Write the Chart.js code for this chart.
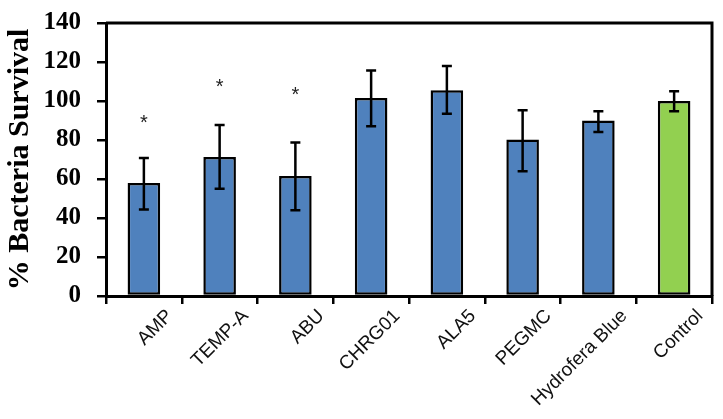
<!DOCTYPE html>
<html><head><meta charset="utf-8">
<script src="https://cdn.jsdelivr.net/npm/chart.js@4/dist/chart.umd.min.js"></script>
<style>html,body{margin:0;padding:0;background:#fff;}#wrap{width:723px;height:419px;position:relative;}</style>
</head><body><div id="wrap"><canvas id="c" width="723" height="419"></canvas></div>
<script>
const categories = ['AMP','TEMP-A','ABU','CHRG01','ALA5','PEGMC','Hydrofera Blue','Control'];
const survival = [58, 71.3, 61.6, 101.5, 105.5, 80.2, 90, 100];
const errLow = [44.4, 55, 44, 87, 93.5, 64, 84.1, 94.7];
const errHigh = [70.8, 87.7, 78.7, 115.7, 117.9, 95.2, 94.7, 105];
const starAt = [90, 108, 104, null, null, null, null, null];
const barColors = ['#4f81bd','#4f81bd','#4f81bd','#4f81bd','#4f81bd','#4f81bd','#4f81bd','#92d050'];
const yTickValues = [0, 20, 40, 60, 80, 100, 120, 140];

const extras = {
  id: 'extras',
  afterDatasetsDraw(chart) {
    const ctx = chart.ctx, x = chart.scales.x, y = chart.scales.y, ca = chart.chartArea;
    ctx.save();
    ctx.strokeStyle = '#000';
    ctx.lineWidth = 2.5;
    categories.forEach((c, i) => {
      const px = x.getPixelForValue(i);
      const yl = y.getPixelForValue(errLow[i]), yh = y.getPixelForValue(errHigh[i]);
      ctx.beginPath();
      ctx.moveTo(px, yl); ctx.lineTo(px, yh);
      ctx.moveTo(px - 5, yl); ctx.lineTo(px + 5, yl);
      ctx.moveTo(px - 5, yh); ctx.lineTo(px + 5, yh);
      ctx.stroke();
      if (starAt[i] != null) {
        ctx.fillStyle = '#222';
        ctx.font = '20px "Liberation Sans"';
        ctx.textAlign = 'center';
        ctx.textBaseline = 'alphabetic';
        ctx.fillText('*', px, y.getPixelForValue(starAt[i]) + 8);
      }
    });
    ctx.lineWidth = 3;
    ctx.beginPath();
    ctx.moveTo(ca.left, ca.top); ctx.lineTo(ca.right, ca.top); ctx.lineTo(ca.right, ca.bottom);
    ctx.stroke();
    ctx.restore();
  }
};

new Chart(document.getElementById('c'), {
  type: 'bar',
  data: {
    labels: categories,
    datasets: [{
      data: survival,
      backgroundColor: barColors,
      borderColor: '#000',
      borderWidth: 2.5,
      borderSkipped: false,
      barPercentage: 0.43,
      categoryPercentage: 1
    }]
  },
  options: {
    responsive: false,
    animation: false,
    devicePixelRatio: 1,
    layout: { padding: { left: 0, top: 23, right: 11, bottom: 0 } },
    plugins: { legend: { display: false }, tooltip: { enabled: false } },
    scales: {
      x: {
        grid: { drawOnChartArea: false, drawTicks: true, tickLength: 8, color: '#000', lineWidth: 2.5, offset: true },
        border: { display: true, color: '#000', width: 3 },
        ticks: { color: '#111', font: { family: '"Liberation Sans"', size: 19 }, maxRotation: 45, minRotation: 45, labelOffset: 26, padding: 1 },
        afterFit(scale) { scale.height = 123; scale.paddingLeft = 0; scale.paddingRight = 0; }
      },
      y: {
        min: 0, max: 140,
        afterBuildTicks(scale) { scale.ticks = yTickValues.map(v => ({ value: v })); },
        grid: { drawOnChartArea: false, drawTicks: true, tickLength: 9, color: '#000', lineWidth: 2.5 },
        border: { display: true, color: '#000', width: 3 },
        ticks: { color: '#000', font: { family: '"Liberation Serif"', size: 25, weight: 'bold' }, padding: 16 },
        title: { display: true, text: '% Bacteria Survival', color: '#000', font: { family: '"Liberation Serif"', size: 30, weight: 'bold' }, padding: { top: 2, bottom: 0 } },
        afterFit(scale) { scale.width = 106; scale.paddingTop = 0; scale.paddingBottom = 0; }
      }
    }
  },
  plugins: [extras]
});
</script></body></html>
